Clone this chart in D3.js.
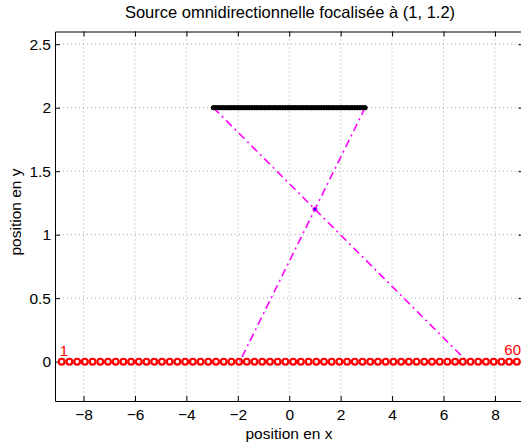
<!DOCTYPE html>
<html>
<head>
<meta charset="utf-8">
<script src="https://cdn.jsdelivr.net/npm/d3@7"></script>
<style>
body { margin: 0; background: #fff; }
svg { font-family: "Liberation Sans", Arial, sans-serif; }
</style>
</head>
<body>
<svg id="canvas" width="521" height="444"></svg>
<script>
// donnees
let xTicks = [-8, -6, -4, -2, 0, 2, 4, 6, 8]
let yTicks = [0, 0.5, 1, 1.5, 2, 2.5]
let yTickLabels = ['0', '0.5', '1', '1.5', '2', '2.5']
let hpX = [-8.85, -8.55, -8.25, -7.95, -7.65, -7.35, -7.05, -6.75, -6.45, -6.15,
  -5.85, -5.55, -5.25, -4.95, -4.65, -4.35, -4.05, -3.75, -3.45, -3.15,
  -2.85, -2.55, -2.25, -1.95, -1.65, -1.35, -1.05, -0.75, -0.45, -0.15,
  0.15, 0.45, 0.75, 1.05, 1.35, 1.65, 1.95, 2.25, 2.55, 2.85,
  3.15, 3.45, 3.75, 4.05, 4.35, 4.65, 4.95, 5.25, 5.55, 5.85,
  6.15, 6.45, 6.75, 7.05, 7.35, 7.65, 7.95, 8.25, 8.55, 8.85]
let hpY = 0
let srcX = [-2.95, -2.85, -2.75, -2.65, -2.55, -2.45, -2.35, -2.25, -2.15, -2.05,
  -1.95, -1.85, -1.75, -1.65, -1.55, -1.45, -1.35, -1.25, -1.15, -1.05,
  -0.95, -0.85, -0.75, -0.65, -0.55, -0.45, -0.35, -0.25, -0.15, -0.05,
  0.05, 0.15, 0.25, 0.35, 0.45, 0.55, 0.65, 0.75, 0.85, 0.95,
  1.05, 1.15, 1.25, 1.35, 1.45, 1.55, 1.65, 1.75, 1.85, 1.95,
  2.05, 2.15, 2.25, 2.35, 2.45, 2.55, 2.65, 2.75, 2.85, 2.95]
let srcY = 2
let focus = [1, 1.2]
let rays = [
  [[-2.95, 2], [6.925, 0]],
  [[2.95, 2], [-1.925, 0]]
]

let canvas = d3.select('#canvas')

let xScale = d3.scaleLinear().domain([-9.11, 9.11]).range([55, 523.5])
let yScale = d3.scaleLinear().domain([-0.31, 2.6]).range([401, 31.5])

let plotLeft = xScale(-9.11), plotRight = xScale(9.11)
let plotTop = yScale(2.6), plotBottom = yScale(-0.31)

// grille pointillee
canvas.append('g').selectAll('line')
  .data(xTicks)
  .enter()
  .append('line')
  .attr('x1', d => xScale(d)).attr('x2', d => xScale(d))
  .attr('y1', plotTop).attr('y2', plotBottom)
  .attr('stroke', '#888').attr('stroke-width', 0.7)
  .attr('stroke-dasharray', '1,3')

canvas.append('g').selectAll('line')
  .data(yTicks)
  .enter()
  .append('line')
  .attr('y1', d => yScale(d)).attr('y2', d => yScale(d))
  .attr('x1', plotLeft).attr('x2', plotRight)
  .attr('stroke', '#888').attr('stroke-width', 0.7)
  .attr('stroke-dasharray', '1,3')

// axes
let xAxis = d3.axisBottom(xScale).tickValues(xTicks).tickSizeInner(-5).tickSizeOuter(0)
  .tickFormat(d => d < 0 ? '\u2212' + Math.abs(d) : d)
let yAxis = d3.axisLeft(yScale).tickValues(yTicks).tickSizeInner(-5).tickSizeOuter(0)
  .tickFormat((d, i) => yTickLabels[i])

let gx = canvas.append('g').attr('transform', 'translate(0,' + plotBottom + ')').call(xAxis)
gx.selectAll('text').attr('dy', 0).attr('y', 19).style('font-size', '15.5px')
  .style('font-family', '"Liberation Sans", Arial, sans-serif')
let gy = canvas.append('g').attr('transform', 'translate(' + plotLeft + ',0)').call(yAxis)
gy.selectAll('text').attr('x', -4).style('font-size', '15.5px')
  .style('font-family', '"Liberation Sans", Arial, sans-serif')

canvas.append('g').attr('transform', 'translate(0,' + plotTop + ')')
  .call(d3.axisTop(xScale).tickValues(xTicks).tickSizeInner(-5).tickSizeOuter(0).tickFormat(''))
canvas.append('g').attr('transform', 'translate(' + plotRight + ',0)')
  .call(d3.axisRight(yScale).tickValues(yTicks).tickSizeInner(-5).tickSizeOuter(0).tickFormat(''))

canvas.selectAll('.domain').attr('stroke', '#000').attr('stroke-width', 1)
canvas.selectAll('.tick line').attr('stroke', '#000')

// rayons
canvas.append('g').selectAll('path')
  .data(rays)
  .enter()
  .append('path')
  .attr('d', d3.line().x(d => xScale(d[0])).y(d => yScale(d[1])))
  .attr('fill', 'none')
  .attr('stroke', '#ff00ff')
  .attr('stroke-width', 1.6)
  .attr('stroke-dasharray', '8,4,2,4')

// sources (ligne noire)
canvas.append('g').selectAll('circle')
  .data(srcX)
  .enter()
  .append('circle')
  .attr('cx', d => xScale(d))
  .attr('cy', yScale(srcY))
  .attr('r', 2.2)
  .attr('fill', '#000')
  .attr('stroke', '#000')
  .attr('stroke-width', 1)

// point focal
canvas.append('circle')
  .attr('cx', xScale(focus[0])).attr('cy', yScale(focus[1]))
  .attr('r', 2.5).attr('fill', '#ff00ff')
canvas.append('circle')
  .attr('cx', xScale(focus[0])).attr('cy', yScale(focus[1]))
  .attr('r', 1.2).attr('fill', '#0000ff')

// haut-parleurs
canvas.append('g').selectAll('circle')
  .data(hpX)
  .enter()
  .append('circle')
  .attr('cx', d => xScale(d))
  .attr('cy', yScale(hpY))
  .attr('r', 2.9)
  .attr('fill', 'none')
  .attr('stroke', '#ff0000')
  .attr('stroke-width', 2.2)

canvas.append('text')
  .attr('x', xScale(hpX[0]) - 2).attr('y', yScale(hpY) - 6)
  .attr('fill', '#ff0000').style('font-size', '15px')
  .text('1')
canvas.append('text')
  .attr('x', 521).attr('y', yScale(hpY) - 7)
  .attr('text-anchor', 'end')
  .attr('fill', '#ff0000').style('font-size', '15px')
  .text('60')

// titres
canvas.append('text')
  .attr('x', 290).attr('y', 18)
  .attr('text-anchor', 'middle')
  .style('font-size', '16.5px')
  .text('Source omnidirectionnelle focalisée à (1, 1.2)')
canvas.append('text')
  .attr('x', 289).attr('y', 439)
  .attr('text-anchor', 'middle')
  .style('font-size', '15.5px')
  .text('position en x')
canvas.append('text')
  .attr('transform', 'translate(21,212) rotate(-90)')
  .attr('text-anchor', 'middle')
  .style('font-size', '15.5px')
  .text('position en y')
</script>
</body>
</html>
